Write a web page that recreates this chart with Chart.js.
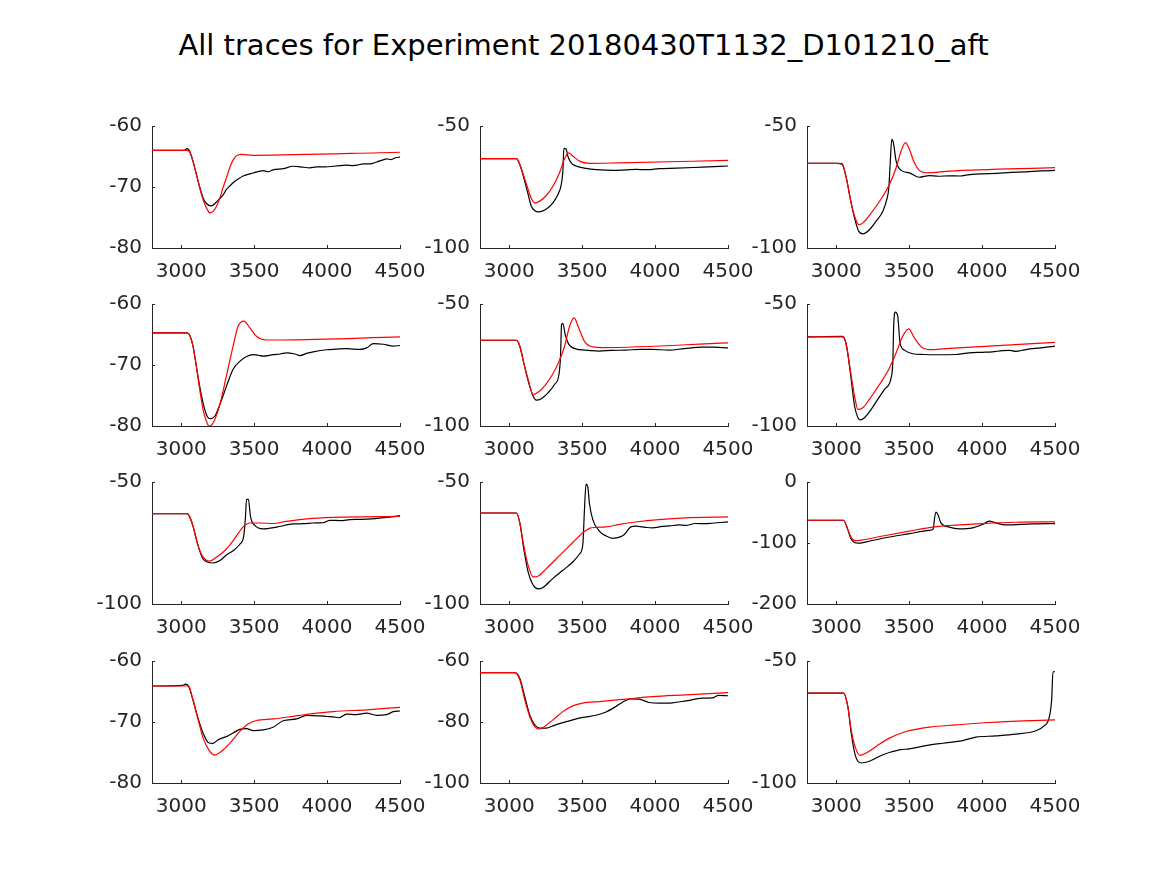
<!DOCTYPE html>
<html>
<head>
<meta charset="utf-8">
<script src="https://cdn.jsdelivr.net/npm/chart.js@4/dist/chart.umd.min.js"></script>
<style>
  body { margin: 0; background: #fff; }
  #page { position: relative; width: 1167px; height: 875px; background: #fff; overflow: hidden; }
  #titulo { position: absolute; left: 0; top: 27px; width: 1167px; text-align: center;
            font-family: "DejaVu Sans", sans-serif; font-size: 29px; color: #000; line-height: 36px; }
  canvas { position: absolute; }
</style>
</head>
<body>
<div id="page">
  <div id="titulo">All traces for Experiment 20180430T1132_D101210_aft</div>
</div>
<script>
// eixo x comum
const xTickValues = [3000, 3500, 4000, 4500];
const xMin = 2800, xMax = 4500;

// ticks do eixo y de cada painel
const yTicks1 = [-80, -70, -60];
const yTicks2 = [-100, -50];
const yTicks3 = [-100, -50];
const yTicks4 = [-80, -70, -60];
const yTicks5 = [-100, -50];
const yTicks6 = [-100, -50];
const yTicks7 = [-100, -50];
const yTicks8 = [-100, -50];
const yTicks9 = [-200, -100, 0];
const yTicks10 = [-80, -70, -60];
const yTicks11 = [-100, -80, -60];
const yTicks12 = [-100, -50];

// --- painel 1 ---
const tBlack1 = [2800, 3020, 3040, 3055, 3081, 3104, 3127, 3150, 3173, 3207, 3240, 3264, 3290, 3310, 3335, 3356, 3390, 3425, 3493, 3562, 3596, 3630, 3700, 3767, 3820, 3882, 3928, 3990, 4043, 4090, 4134, 4179, 4210, 4248, 4294, 4340, 4380, 4408, 4440, 4470, 4500];
const vBlack1 = [-64.0, -64.0, -63.7, -64.0, -65.8, -67.9, -70.0, -71.8, -72.7, -73.1, -72.5, -71.9, -71.2, -70.4, -69.8, -69.3, -68.7, -68.2, -67.7, -67.3, -67.5, -67.2, -67.0, -66.6, -66.7, -66.85, -66.7, -66.7, -66.6, -66.5, -66.4, -66.5, -66.4, -66.2, -66.2, -65.9, -65.6, -65.4, -65.5, -65.2, -65.1];
const tRed1 = [2800, 3040, 3060, 3081, 3104, 3127, 3150, 3173, 3196, 3219, 3242, 3264, 3287, 3310, 3333, 3356, 3379, 3413, 3493, 4500];
const vRed1 = [-64.0, -64.0, -64.3, -65.75, -67.9, -70.1, -72.05, -73.4, -74.25, -74.0, -73.15, -71.9, -70.1, -68.5, -66.85, -65.6, -64.9, -64.65, -64.8, -64.3];

// --- painel 2 ---
const tBlack2 = [2800, 3050, 3073, 3100, 3130, 3152, 3175, 3200, 3250, 3300, 3334, 3357, 3368, 3375, 3391, 3402, 3425, 3459, 3527, 3600, 3709, 3800, 3868, 3950, 4027, 4150, 4323, 4500];
const vBlack2 = [-63.4, -63.4, -65.9, -71.2, -78.0, -82.9, -84.6, -85.2, -84.2, -81.5, -78.1, -74.0, -68.5, -59.2, -59.4, -62.3, -65.1, -66.4, -67.4, -67.9, -68.2, -68.0, -67.8, -67.9, -67.5, -67.3, -66.85, -66.4];
const tRed2 = [2800, 3050, 3073, 3100, 3130, 3152, 3175, 3200, 3250, 3300, 3345, 3377, 3407, 3436, 3482, 3550, 3755, 4500];
const vRed2 = [-63.4, -63.4, -65.75, -70.5, -76.0, -79.7, -81.5, -81.1, -78.8, -74.7, -69.2, -63.7, -61.0, -62.3, -64.4, -65.3, -65.1, -64.1];

// --- painel 3 ---
const tBlack3 = [2800, 3000, 3040, 3069, 3100, 3126, 3155, 3183, 3228, 3274, 3320, 3347, 3361, 3370, 3381, 3392, 3411, 3445, 3502, 3570, 3638, 3700, 3775, 3850, 3900, 4002, 4100, 4200, 4300, 4400, 4500];
const vBlack3 = [-65.3, -65.3, -65.6, -71.2, -80.8, -87.7, -93.2, -94.2, -92.5, -89.0, -84.9, -80.1, -75.3, -65.8, -55.5, -56.8, -64.4, -68.2, -69.2, -71.0, -70.3, -70.6, -70.4, -70.5, -70.0, -69.6, -69.4, -69.0, -68.8, -68.4, -68.2];
const tRed3 = [2800, 3040, 3069, 3100, 3126, 3155, 3183, 3228, 3274, 3320, 3365, 3411, 3445, 3475, 3502, 3536, 3570, 3627, 3775, 4500];
const vRed3 = [-65.3, -65.3, -71.2, -80.8, -87.0, -90.4, -89.7, -86.6, -82.9, -78.8, -74.0, -67.1, -60.3, -56.8, -59.6, -65.1, -68.2, -69.2, -68.5, -67.1];

// --- painel 4 ---
const tBlack4 = [2800, 3040, 3060, 3081, 3104, 3127, 3150, 3173, 3196, 3230, 3265, 3310, 3356, 3402, 3448, 3494, 3530, 3562, 3631, 3680, 3722, 3780, 3814, 3860, 3905, 3997, 4060, 4134, 4180, 4226, 4272, 4317, 4386, 4455, 4500];
const vBlack4 = [-64.74, -64.74, -65.2, -66.9, -70.2, -73.5, -76.2, -78.1, -78.8, -78.4, -76.5, -73.5, -70.7, -69.4, -68.6, -68.3, -68.4, -68.55, -68.3, -68.2, -68.0, -68.2, -68.45, -68.1, -67.85, -67.5, -67.4, -67.3, -67.4, -67.45, -67.2, -66.5, -66.6, -66.9, -66.8];
const tRed4 = [2800, 3040, 3060, 3081, 3104, 3127, 3150, 3173, 3191, 3219, 3265, 3310, 3356, 3390, 3429, 3471, 3516, 3585, 3700, 4500];
const vRed4 = [-64.74, -64.74, -65.2, -66.9, -70.2, -74.0, -77.3, -79.2, -80.0, -79.5, -76.5, -71.8, -66.9, -63.65, -62.8, -63.9, -65.3, -65.9, -65.9, -65.4];

// --- painel 5 ---
const tBlack5 = [2800, 3050, 3073, 3100, 3130, 3164, 3186, 3220, 3266, 3311, 3341, 3352, 3359, 3368, 3384, 3414, 3482, 3540, 3618, 3700, 3800, 3900, 3982, 4095, 4200, 4323, 4400, 4500];
const vBlack5 = [-64.85, -64.85, -67.3, -74.1, -81.5, -87.7, -89.4, -88.8, -86.4, -83.0, -78.9, -71.4, -58.4, -57.9, -62.5, -67.0, -68.7, -69.0, -69.3, -69.0, -68.9, -68.6, -68.6, -68.9, -68.3, -67.7, -67.7, -68.0];
const tRed5 = [2800, 3050, 3073, 3100, 3130, 3164, 3200, 3250, 3300, 3345, 3380, 3414, 3445, 3477, 3516, 3573, 3641, 4500];
const vRed5 = [-64.85, -64.85, -67.3, -74.1, -80.9, -87.1, -86.1, -83.0, -78.6, -73.0, -67.3, -59.1, -55.7, -59.8, -65.3, -67.6, -67.85, -65.9];

// --- painel 6 ---
const tBlack6 = [2800, 3040, 3069, 3100, 3126, 3149, 3165, 3194, 3240, 3285, 3331, 3377, 3388, 3395, 3406, 3422, 3438, 3468, 3525, 3600, 3684, 3821, 3870, 3912, 4003, 4070, 4140, 4190, 4231, 4290, 4345, 4420, 4500];
const vBlack6 = [-63.5, -63.3, -66.6, -79.5, -91.8, -96.6, -97.5, -96.6, -93.2, -89.1, -85.0, -80.2, -74.1, -57.8, -53.3, -55.0, -66.0, -68.9, -70.4, -70.7, -70.8, -70.7, -70.3, -70.0, -69.8, -69.6, -69.1, -69.0, -69.4, -68.8, -68.3, -67.9, -67.3];
const tRed6 = [2800, 3050, 3069, 3100, 3126, 3149, 3183, 3228, 3274, 3320, 3365, 3411, 3456, 3497, 3536, 3593, 3661, 3775, 4500];
const vRed6 = [-63.5, -63.5, -66.6, -78.2, -87.7, -93.2, -92.5, -89.1, -85.0, -80.9, -76.2, -70.0, -63.2, -60.2, -63.9, -68.0, -68.7, -68.2, -65.7];

// --- painel 7 ---
const tBlack7 = [2800, 3040, 3060, 3081, 3116, 3150, 3219, 3265, 3310, 3356, 3402, 3429, 3441, 3448, 3461, 3475, 3505, 3562, 3654, 3768, 3840, 3905, 3974, 4020, 4090, 4157, 4220, 4272, 4330, 4386, 4440, 4500];
const vBlack7 = [-63.0, -63.0, -64.5, -68.1, -76.1, -81.5, -83.2, -82.2, -79.9, -78.2, -75.5, -72.1, -64.1, -57.1, -57.1, -64.1, -67.8, -69.2, -68.5, -67.2, -67.1, -66.8, -66.7, -65.7, -65.8, -65.4, -65.3, -65.2, -65.0, -64.6, -64.3, -63.8];
const tRed7 = [2800, 3040, 3060, 3081, 3116, 3150, 3196, 3242, 3287, 3333, 3379, 3425, 3471, 3539, 3630, 3722, 3860, 4043, 4500];
const vRed7 = [-63.0, -63.0, -64.5, -68.1, -76.1, -80.8, -82.4, -80.8, -78.8, -75.9, -72.1, -68.4, -66.8, -66.8, -67.0, -66.1, -65.1, -64.5, -64.1];

// --- painel 8 ---
const tBlack8 = [2800, 3050, 3073, 3100, 3130, 3164, 3198, 3232, 3300, 3368, 3436, 3482, 3505, 3516, 3527, 3539, 3550, 3573, 3618, 3664, 3709, 3766, 3789, 3834, 3868, 3936, 3982, 4050, 4100, 4164, 4209, 4277, 4340, 4391, 4450, 4500];
const vBlack8 = [-62.7, -62.7, -66.8, -77.4, -86.9, -92.2, -93.8, -93.2, -89.5, -86.2, -82.8, -79.5, -75.5, -61.4, -50.9, -52.0, -58.7, -65.4, -70.1, -72.1, -73.1, -72.4, -71.5, -68.4, -68.1, -68.6, -68.8, -68.2, -68.0, -67.6, -67.8, -67.0, -67.1, -66.9, -66.6, -66.35];
const tRed8 = [2800, 3050, 3073, 3100, 3130, 3164, 3200, 3255, 3345, 3436, 3505, 3550, 3595, 3664, 3755, 3868, 4027, 4209, 4500];
const vRed8 = [-62.7, -62.7, -66.8, -76.1, -84.2, -88.9, -88.5, -85.5, -80.2, -74.8, -70.8, -69.0, -68.6, -68.4, -67.4, -66.4, -65.4, -64.7, -64.3];

// --- painel 9 ---
const tBlack9 = [2800, 3050, 3080, 3103, 3149, 3206, 3320, 3502, 3638, 3666, 3673, 3684, 3698, 3718, 3775, 3844, 3935, 4003, 4049, 4094, 4163, 4345, 4500];
const vBlack9 = [-62.7, -62.7, -78.5, -93.8, -100.3, -98.1, -92.2, -84.7, -79.4, -76.7, -61.7, -49.3, -53.6, -67.0, -74.0, -76.7, -75.1, -69.7, -64.3, -67.0, -70.2, -68.6, -68.1];
const tRed9 = [2800, 3050, 3065, 3080, 3103, 3133, 3183, 3320, 3502, 3673, 3775, 4003, 4231, 4500];
const vRed9 = [-62.7, -62.7, -68.0, -77.7, -91.2, -96.5, -94.9, -88.5, -80.4, -73.5, -71.3, -68.1, -66.0, -65.4];

// --- painel 10 ---
const tBlack10 = [2800, 3010, 3030, 3050, 3081, 3116, 3150, 3185, 3219, 3253, 3310, 3356, 3402, 3448, 3493, 3562, 3630, 3699, 3791, 3860, 3951, 4000, 4043, 4080, 4134, 4200, 4272, 4340, 4408, 4454, 4500];
const vBlack10 = [-64.1, -64.0, -63.8, -64.1, -66.4, -69.4, -71.8, -73.35, -73.5, -72.9, -72.4, -71.8, -71.2, -71.1, -71.4, -71.3, -70.85, -69.8, -69.5, -68.9, -69.0, -69.1, -69.15, -69.3, -68.7, -68.8, -68.55, -68.9, -68.8, -68.3, -68.2];
const tRed10 = [2800, 3050, 3081, 3116, 3150, 3196, 3230, 3276, 3333, 3402, 3460, 3516, 3630, 3814, 4043, 4272, 4500];
const vRed10 = [-64.1, -64.1, -66.4, -69.6, -72.6, -74.8, -75.4, -74.8, -73.5, -71.55, -70.3, -69.75, -69.5, -68.9, -68.3, -68.0, -67.6];

// --- painel 11 ---
const tBlack11 = [2800, 3040, 3073, 3107, 3141, 3175, 3209, 3255, 3300, 3368, 3436, 3505, 3595, 3664, 3732, 3777, 3834, 3891, 3959, 4027, 4118, 4209, 4323, 4391, 4436, 4500];
const vBlack11 = [-63.8, -63.8, -65.7, -71.7, -77.7, -80.9, -82.0, -82.0, -81.25, -80.2, -79.3, -78.5, -77.8, -76.7, -74.9, -73.5, -72.4, -72.5, -73.6, -73.8, -73.7, -73.1, -72.2, -72.1, -71.3, -71.4];
const tRed11 = [2800, 3040, 3073, 3107, 3141, 3175, 3202, 3232, 3300, 3368, 3436, 3505, 3618, 3800, 3982, 4209, 4500];
const vRed11 = [-63.8, -63.8, -66.2, -72.75, -78.2, -81.5, -82.3, -81.8, -79.3, -76.6, -74.7, -73.8, -73.3, -72.5, -71.7, -71.1, -70.35];

// --- painel 12 ---
const tBlack12 = [2800, 3050, 3080, 3103, 3133, 3172, 3228, 3320, 3434, 3502, 3616, 3730, 3867, 3958, 4094, 4231, 4368, 4425, 4459, 4477, 4486, 4500];
const vBlack12 = [-63.2, -63.2, -68.7, -79.6, -89.1, -91.8, -91.1, -88.4, -86.4, -86.0, -84.7, -83.7, -82.6, -81.2, -80.7, -80.0, -78.6, -76.6, -73.4, -65.9, -54.4, -54.4];
const tRed12 = [2800, 3050, 3080, 3103, 3133, 3165, 3206, 3274, 3365, 3479, 3639, 3821, 4049, 4345, 4500];
const vRed12 = [-63.2, -63.2, -68.7, -78.2, -85.7, -88.7, -87.7, -85.0, -81.6, -78.9, -77.1, -76.2, -75.2, -74.4, -74.1];

const paineis = [
    { tk: tBlack1, vk: vBlack1, tr: tRed1, vr: vRed1, yt: yTicks1 },
    { tk: tBlack2, vk: vBlack2, tr: tRed2, vr: vRed2, yt: yTicks2 },
    { tk: tBlack3, vk: vBlack3, tr: tRed3, vr: vRed3, yt: yTicks3 },
    { tk: tBlack4, vk: vBlack4, tr: tRed4, vr: vRed4, yt: yTicks4 },
    { tk: tBlack5, vk: vBlack5, tr: tRed5, vr: vRed5, yt: yTicks5 },
    { tk: tBlack6, vk: vBlack6, tr: tRed6, vr: vRed6, yt: yTicks6 },
    { tk: tBlack7, vk: vBlack7, tr: tRed7, vr: vRed7, yt: yTicks7 },
    { tk: tBlack8, vk: vBlack8, tr: tRed8, vr: vRed8, yt: yTicks8 },
    { tk: tBlack9, vk: vBlack9, tr: tRed9, vr: vRed9, yt: yTicks9 },
    { tk: tBlack10, vk: vBlack10, tr: tRed10, vr: vRed10, yt: yTicks10 },
    { tk: tBlack11, vk: vBlack11, tr: tRed11, vr: vRed11, yt: yTicks11 },
    { tk: tBlack12, vk: vBlack12, tr: tRed12, vr: vRed12, yt: yTicks12 }
];

// posicao das areas de plotagem
const colLeft = [152, 480, 807];
const rowTop = [126, 304, 482, 661];
const plotW = 248, plotH = 122;
const padL = 70, padT = 15, padR = 35, padB = 44;
const corEixo = '#262626';
const fonteTicks = { family: '"DejaVu Sans", sans-serif', size: 20 };

// ticks para dentro, estilo matlab
const ticksInternos = {
    id: 'ticksInternos',
    afterDraw(chart) {
        const ctx = chart.ctx;
        const a = chart.chartArea;
        const x = chart.scales.x, y = chart.scales.y;
        ctx.save();
        ctx.strokeStyle = corEixo;
        ctx.lineWidth = 1;
        ctx.beginPath();
        x.ticks.forEach(t => {
            const px = Math.round(x.getPixelForValue(t.value)) + 0.5;
            ctx.moveTo(px, a.bottom);
            ctx.lineTo(px, a.bottom - 3);
        });
        y.ticks.forEach(t => {
            const py = Math.round(y.getPixelForValue(t.value)) + 0.5;
            ctx.moveTo(a.left, py);
            ctx.lineTo(a.left + 3, py);
        });
        ctx.stroke();
        ctx.restore();
    }
};

function zeraPadding(s) {
    s.paddingLeft = 0; s.paddingRight = 0; s.paddingTop = 0; s.paddingBottom = 0;
}

function criaPainel(p, i) {
    const col = i % 3, row = Math.floor(i / 3);
    const cv = document.createElement('canvas');
    cv.width = padL + plotW + padR;
    cv.height = padT + plotH + padB;
    cv.style.left = (colLeft[col] - padL) + 'px';
    cv.style.top = (rowTop[row] - padT) + 'px';
    document.getElementById('page').appendChild(cv);

    new Chart(cv.getContext('2d'), {
        type: 'line',
        data: {
            datasets: [
                {
                    data: p.tk.map((t, k) => ({ x: t, y: p.vk[k] })),
                    borderColor: '#000000', borderWidth: 1.2, pointRadius: 0,
                    cubicInterpolationMode: 'monotone', order: 1
                },
                {
                    data: p.tr.map((t, k) => ({ x: t, y: p.vr[k] })),
                    borderColor: '#ff0000', borderWidth: 1.2, pointRadius: 0,
                    cubicInterpolationMode: 'monotone', order: 0
                }
            ]
        },
        options: {
            responsive: false,
            animation: false,
            events: [],
            layout: { padding: { left: 0, top: padT, right: padR, bottom: 0 } },
            plugins: { legend: { display: false }, tooltip: { enabled: false } },
            scales: {
                x: {
                    type: 'linear', min: xMin, max: xMax,
                    grid: { display: false, drawTicks: false },
                    border: { display: true, color: corEixo, width: 1 },
                    ticks: { color: corEixo, font: fonteTicks, padding: 12, maxRotation: 0,
                             callback: v => String(v) },
                    afterBuildTicks: s => { s.ticks = xTickValues.map(v => ({ value: v })); },
                    afterFit: s => { s.height = padB; zeraPadding(s); }
                },
                y: {
                    type: 'linear', min: p.yt[0], max: p.yt[p.yt.length - 1],
                    grid: { display: false, drawTicks: false },
                    border: { display: true, color: corEixo, width: 1 },
                    ticks: { color: corEixo, font: fonteTicks, padding: 10,
                             callback: v => String(v) },
                    afterBuildTicks: s => { s.ticks = p.yt.map(v => ({ value: v })); },
                    afterFit: s => { s.width = padL; zeraPadding(s); }
                }
            }
        },
        plugins: [ticksInternos]
    });
}

paineis.forEach(criaPainel);
</script>
</body>
</html>
